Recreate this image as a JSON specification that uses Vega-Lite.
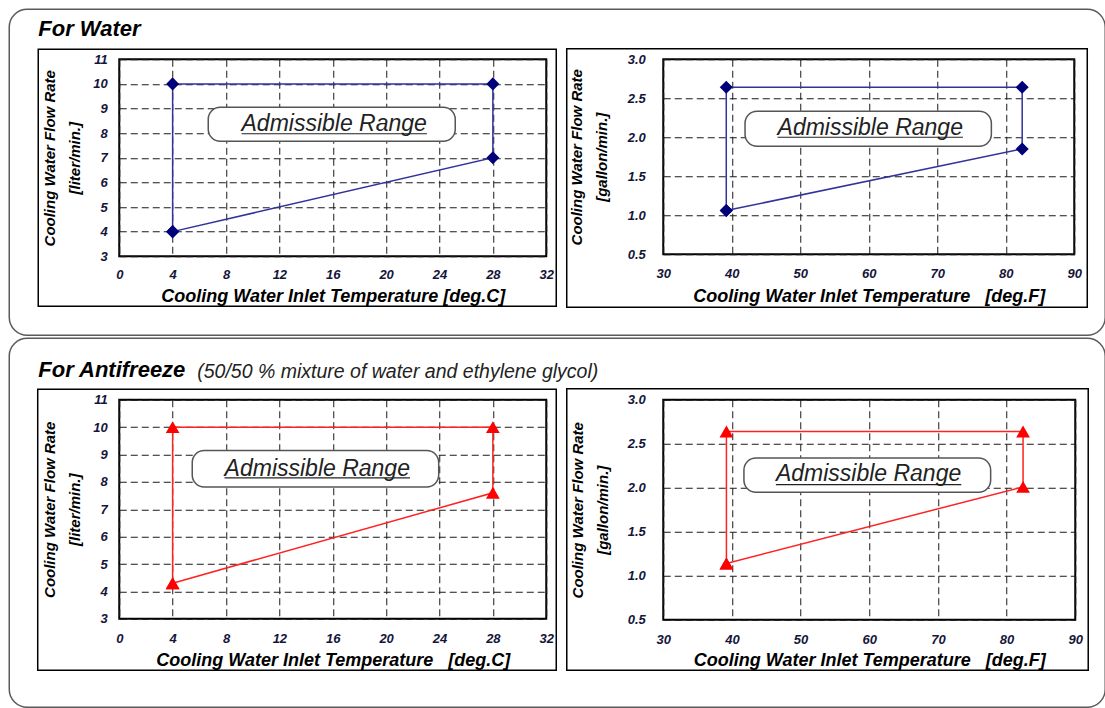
{
  "$schema": "https://vega.github.io/schema/vega-lite/v6.json",
  "background": "white",
  "padding": {"left": 7.25, "top": 7.25, "right": 0, "bottom": 0},
  "datasets": {
    "pts": [
      {"fluid": "Water", "unit": "C", "order": 1, "temp": 4, "flow": 4},
      {"fluid": "Water", "unit": "C", "order": 2, "temp": 4, "flow": 10},
      {"fluid": "Water", "unit": "C", "order": 3, "temp": 28, "flow": 10},
      {"fluid": "Water", "unit": "C", "order": 4, "temp": 28, "flow": 7},
      {"fluid": "Water", "unit": "C", "order": 5, "temp": 4, "flow": 4},
      {"fluid": "Water", "unit": "F", "order": 1, "temp": 39.2, "flow": 1.06},
      {"fluid": "Water", "unit": "F", "order": 2, "temp": 39.2, "flow": 2.64},
      {"fluid": "Water", "unit": "F", "order": 3, "temp": 82.4, "flow": 2.64},
      {"fluid": "Water", "unit": "F", "order": 4, "temp": 82.4, "flow": 1.85},
      {"fluid": "Water", "unit": "F", "order": 5, "temp": 39.2, "flow": 1.06},
      {"fluid": "Antifreeze", "unit": "C", "order": 1, "temp": 4, "flow": 4.3},
      {"fluid": "Antifreeze", "unit": "C", "order": 2, "temp": 4, "flow": 10},
      {"fluid": "Antifreeze", "unit": "C", "order": 3, "temp": 28, "flow": 10},
      {"fluid": "Antifreeze", "unit": "C", "order": 4, "temp": 28, "flow": 7.6},
      {"fluid": "Antifreeze", "unit": "C", "order": 5, "temp": 4, "flow": 4.3},
      {"fluid": "Antifreeze", "unit": "F", "order": 1, "temp": 39.2, "flow": 1.14},
      {"fluid": "Antifreeze", "unit": "F", "order": 2, "temp": 39.2, "flow": 2.64},
      {"fluid": "Antifreeze", "unit": "F", "order": 3, "temp": 82.4, "flow": 2.64},
      {"fluid": "Antifreeze", "unit": "F", "order": 4, "temp": 82.4, "flow": 2.01},
      {"fluid": "Antifreeze", "unit": "F", "order": 5, "temp": 39.2, "flow": 1.14}
    ]
  },
  "bounds": "flush",
  "columns": 2,
  "spacing": {"row": 143.5, "column": 117},
  "concat": [
    {
      "width": 427, "height": 197,
      "layer": [
        {"data": {"name": "pts"}, "transform": [{"filter": "datum.fluid === 'Water' && datum.unit === 'C'"}],
         "mark": {"type": "line", "color": "#32329c", "strokeWidth": 1.5},
         "encoding": {
           "x": {"field": "temp", "type": "quantitative", "scale": {"domain": [0, 32], "nice": false, "zero": false}, "axis": {"values": [0, 4, 8, 12, 16, 20, 24, 28, 32], "tickCount": 20, "format": "d", "title": "Cooling Water Inlet Temperature [deg.C]", "labelPadding": 12, "titlePadding": 6}},
           "y": {"field": "flow", "type": "quantitative", "scale": {"domain": [3, 11], "nice": false, "zero": false}, "axis": {"values": [3, 4, 5, 6, 7, 8, 9, 10, 11], "tickCount": 20, "format": "d", "title": ["Cooling Water Flow Rate", "[liter/min.]"], "labelPadding": 12, "titlePadding": 10}},
           "order": {"field": "order", "type": "quantitative"}
         }},
        {"data": {"name": "pts"}, "transform": [{"filter": "datum.fluid === 'Water' && datum.unit === 'C'"}],
         "mark": {"type": "point", "shape": "diamond", "filled": true, "size": 170, "color": "#00007a", "opacity": 1},
         "encoding": {
           "x": {"field": "temp", "type": "quantitative", "scale": {"domain": [0, 32], "nice": false, "zero": false}},
           "y": {"field": "flow", "type": "quantitative", "scale": {"domain": [3, 11], "nice": false, "zero": false}}
         }},
        {"data": {"values": [{}]},
         "mark": {"type": "rect", "fill": "transparent", "stroke": "#5a5a5a", "strokeWidth": 1.5, "cornerRadius": 18},
         "encoding": {
           "x": {"datum": -8.243, "type": "quantitative", "scale": {"domain": [0, 32], "nice": false, "zero": false}}, "x2": {"datum": 73.89},
           "y": {"datum": 13.03, "type": "quantitative", "scale": {"domain": [3, 11], "nice": false, "zero": false}}, "y2": {"datum": -0.208}
         }},
        {"data": {"values": [{}]},
         "mark": {"type": "rect", "fill": "transparent", "stroke": "#000", "strokeWidth": 1.5},
         "encoding": {
           "x": {"datum": -6.07, "type": "quantitative", "scale": {"domain": [0, 32], "nice": false, "zero": false}}, "x2": {"datum": 32.75},
           "y": {"datum": 11.406, "type": "quantitative", "scale": {"domain": [3, 11], "nice": false, "zero": false}}, "y2": {"datum": 0.97}
         }},
        {"data": {"values": [{}]},
         "mark": {"type": "text", "text": "For Water", "font": "Liberation Sans", "fontSize": 22, "fontStyle": "italic", "fontWeight": "bold", "align": "left", "baseline": "alphabetic", "color": "#000"},
         "encoding": {
           "x": {"datum": -6.07, "type": "quantitative", "scale": {"domain": [0, 32], "nice": false, "zero": false}},
           "y": {"datum": 11.934, "type": "quantitative", "scale": {"domain": [3, 11], "nice": false, "zero": false}}
         }},
        {"data": {"values": [{}]},
         "mark": {"type": "rect", "fill": "white", "stroke": "#555", "strokeWidth": 1.5, "cornerRadius": 12},
         "encoding": {
           "x": {"datum": 6.67, "type": "quantitative", "scale": {"domain": [0, 32], "nice": false, "zero": false}}, "x2": {"datum": 25.18},
           "y": {"datum": 9.05, "type": "quantitative", "scale": {"domain": [3, 11], "nice": false, "zero": false}}, "y2": {"datum": 7.67}
         }},
        {"data": {"values": [{}]},
         "mark": {"type": "text", "text": "Admissible Range", "font": "Liberation Sans", "fontSize": 23, "fontStyle": "italic", "align": "center", "baseline": "alphabetic", "color": "#222"},
         "encoding": {
           "x": {"datum": 16.11, "type": "quantitative", "scale": {"domain": [0, 32], "nice": false, "zero": false}},
           "y": {"datum": 8.076, "type": "quantitative", "scale": {"domain": [3, 11], "nice": false, "zero": false}}
         }},
        {"data": {"values": [{}]},
         "mark": {"type": "rule", "color": "#222", "strokeWidth": 1.2},
         "encoding": {
           "x": {"datum": 9.17, "type": "quantitative", "scale": {"domain": [0, 32], "nice": false, "zero": false}}, "x2": {"datum": 23.06},
           "y": {"datum": 7.975, "type": "quantitative", "scale": {"domain": [3, 11], "nice": false, "zero": false}}
         }}
      ]
    },
    {
      "width": 411, "height": 195,
      "layer": [
        {"data": {"name": "pts"}, "transform": [{"filter": "datum.fluid === 'Water' && datum.unit === 'F'"}],
         "mark": {"type": "line", "color": "#32329c", "strokeWidth": 1.5},
         "encoding": {
           "x": {"field": "temp", "type": "quantitative", "scale": {"domain": [30, 90], "nice": false, "zero": false}, "axis": {"values": [30, 40, 50, 60, 70, 80, 90], "tickCount": 20, "format": "d", "title": "Cooling Water Inlet Temperature\u00a0\u00a0 [deg.F]", "labelPadding": 13, "titlePadding": 7}},
           "y": {"field": "flow", "type": "quantitative", "scale": {"domain": [0.5, 3.0], "nice": false, "zero": false}, "axis": {"values": [0.5, 1.0, 1.5, 2.0, 2.5, 3.0], "tickCount": 20, "format": ".1f", "title": ["Cooling Water Flow Rate", "[gallon/min.]"], "labelPadding": 18, "titlePadding": 18}},
           "order": {"field": "order", "type": "quantitative"}
         }},
        {"data": {"name": "pts"}, "transform": [{"filter": "datum.fluid === 'Water' && datum.unit === 'F'"}],
         "mark": {"type": "point", "shape": "diamond", "filled": true, "size": 170, "color": "#00007a", "opacity": 1},
         "encoding": {
           "x": {"field": "temp", "type": "quantitative", "scale": {"domain": [30, 90], "nice": false, "zero": false}},
           "y": {"field": "flow", "type": "quantitative", "scale": {"domain": [0.5, 3.0], "nice": false, "zero": false}}
         }},
        {"data": {"values": [{}]},
         "mark": {"type": "rect", "fill": "transparent", "stroke": "#000", "strokeWidth": 1.5},
         "encoding": {
           "x": {"datum": 15.91, "type": "quantitative", "scale": {"domain": [30, 90], "nice": false, "zero": false}}, "x2": {"datum": 91.9},
           "y": {"datum": 3.135, "type": "quantitative", "scale": {"domain": [0.5, 3.0], "nice": false, "zero": false}}, "y2": {"datum": -0.179}
         }},
        {"data": {"values": [{}]},
         "mark": {"type": "rect", "fill": "white", "stroke": "#555", "strokeWidth": 1.5, "cornerRadius": 12},
         "encoding": {
           "x": {"datum": 41.94, "type": "quantitative", "scale": {"domain": [30, 90], "nice": false, "zero": false}}, "x2": {"datum": 77.9},
           "y": {"datum": 2.333, "type": "quantitative", "scale": {"domain": [0.5, 3.0], "nice": false, "zero": false}}, "y2": {"datum": 1.885}
         }},
        {"data": {"values": [{}]},
         "mark": {"type": "text", "text": "Admissible Range", "font": "Liberation Sans", "fontSize": 23, "fontStyle": "italic", "align": "center", "baseline": "alphabetic", "color": "#222"},
         "encoding": {
           "x": {"datum": 60.22, "type": "quantitative", "scale": {"domain": [30, 90], "nice": false, "zero": false}},
           "y": {"datum": 2.035, "type": "quantitative", "scale": {"domain": [0.5, 3.0], "nice": false, "zero": false}}
         }},
        {"data": {"values": [{}]},
         "mark": {"type": "rule", "color": "#222", "strokeWidth": 1.2},
         "encoding": {
           "x": {"datum": 46.69, "type": "quantitative", "scale": {"domain": [30, 90], "nice": false, "zero": false}}, "x2": {"datum": 73.75},
           "y": {"datum": 2.0, "type": "quantitative", "scale": {"domain": [0.5, 3.0], "nice": false, "zero": false}}
         }}
      ]
    },
    {
      "width": 427, "height": 219,
      "layer": [
        {"data": {"name": "pts"}, "transform": [{"filter": "datum.fluid === 'Antifreeze' && datum.unit === 'C'"}],
         "mark": {"type": "line", "color": "#ff2222", "strokeWidth": 1.5},
         "encoding": {
           "x": {"field": "temp", "type": "quantitative", "scale": {"domain": [0, 32], "nice": false, "zero": false}, "axis": {"values": [0, 4, 8, 12, 16, 20, 24, 28, 32], "tickCount": 20, "format": "d", "title": "Cooling Water Inlet Temperature\u00a0\u00a0 [deg.C]", "labelPadding": 14, "titlePadding": 6}},
           "y": {"field": "flow", "type": "quantitative", "scale": {"domain": [3, 11], "nice": false, "zero": false}, "axis": {"values": [3, 4, 5, 6, 7, 8, 9, 10, 11], "tickCount": 20, "format": "d", "title": ["Cooling Water Flow Rate", "[liter/min.]"], "labelPadding": 12, "titlePadding": 10}},
           "order": {"field": "order", "type": "quantitative"}
         }},
        {"data": {"name": "pts"}, "transform": [{"filter": "datum.fluid === 'Antifreeze' && datum.unit === 'C'"}],
         "mark": {"type": "point", "shape": "triangle-up", "filled": true, "size": 190, "color": "#ff0000", "opacity": 1},
         "encoding": {
           "x": {"field": "temp", "type": "quantitative", "scale": {"domain": [0, 32], "nice": false, "zero": false}},
           "y": {"field": "flow", "type": "quantitative", "scale": {"domain": [3, 11], "nice": false, "zero": false}}
         }},
        {"data": {"values": [{}]},
         "mark": {"type": "rect", "fill": "transparent", "stroke": "#5a5a5a", "strokeWidth": 1.5, "cornerRadius": 18},
         "encoding": {
           "x": {"datum": -8.243, "type": "quantitative", "scale": {"domain": [0, 32], "nice": false, "zero": false}}, "x2": {"datum": 73.89},
           "y": {"datum": 13.247, "type": "quantitative", "scale": {"domain": [3, 11], "nice": false, "zero": false}}, "y2": {"datum": -0.233}
         }},
        {"data": {"values": [{}]},
         "mark": {"type": "rect", "fill": "transparent", "stroke": "#000", "strokeWidth": 1.5},
         "encoding": {
           "x": {"datum": -6.11, "type": "quantitative", "scale": {"domain": [0, 32], "nice": false, "zero": false}}, "x2": {"datum": 32.75},
           "y": {"datum": 11.384, "type": "quantitative", "scale": {"domain": [3, 11], "nice": false, "zero": false}}, "y2": {"datum": 1.119}
         }},
        {"data": {"values": [{}]},
         "mark": {"type": "text", "text": "For Antifreeze", "font": "Liberation Sans", "fontSize": 22, "fontStyle": "italic", "fontWeight": "bold", "align": "left", "baseline": "alphabetic", "color": "#000"},
         "encoding": {
           "x": {"datum": -6.07, "type": "quantitative", "scale": {"domain": [0, 32], "nice": false, "zero": false}},
           "y": {"datum": 11.822, "type": "quantitative", "scale": {"domain": [3, 11], "nice": false, "zero": false}}
         }},
        {"data": {"values": [{}]},
         "mark": {"type": "text", "text": "(50/50 % mixture of water and ethylene glycol)", "font": "Liberation Sans", "fontSize": 19.5, "fontStyle": "italic", "align": "left", "baseline": "alphabetic", "color": "#222"},
         "encoding": {
           "x": {"datum": 5.845, "type": "quantitative", "scale": {"domain": [0, 32], "nice": false, "zero": false}},
           "y": {"datum": 11.785, "type": "quantitative", "scale": {"domain": [3, 11], "nice": false, "zero": false}}
         }},
        {"data": {"values": [{}]},
         "mark": {"type": "rect", "fill": "white", "stroke": "#555", "strokeWidth": 1.5, "cornerRadius": 12},
         "encoding": {
           "x": {"datum": 5.47, "type": "quantitative", "scale": {"domain": [0, 32], "nice": false, "zero": false}}, "x2": {"datum": 23.94},
           "y": {"datum": 9.144, "type": "quantitative", "scale": {"domain": [3, 11], "nice": false, "zero": false}}, "y2": {"datum": 7.815}
         }},
        {"data": {"values": [{}]},
         "mark": {"type": "text", "text": "Admissible Range", "font": "Liberation Sans", "fontSize": 23, "fontStyle": "italic", "align": "center", "baseline": "alphabetic", "color": "#222"},
         "encoding": {
           "x": {"datum": 14.84, "type": "quantitative", "scale": {"domain": [0, 32], "nice": false, "zero": false}},
           "y": {"datum": 8.205, "type": "quantitative", "scale": {"domain": [3, 11], "nice": false, "zero": false}}
         }},
        {"data": {"values": [{}]},
         "mark": {"type": "rule", "color": "#222", "strokeWidth": 1.2},
         "encoding": {
           "x": {"datum": 7.89, "type": "quantitative", "scale": {"domain": [0, 32], "nice": false, "zero": false}}, "x2": {"datum": 21.79},
           "y": {"datum": 8.143, "type": "quantitative", "scale": {"domain": [3, 11], "nice": false, "zero": false}}
         }}
      ]
    },
    {
      "width": 412, "height": 220,
      "layer": [
        {"data": {"name": "pts"}, "transform": [{"filter": "datum.fluid === 'Antifreeze' && datum.unit === 'F'"}],
         "mark": {"type": "line", "color": "#ff2222", "strokeWidth": 1.5},
         "encoding": {
           "x": {"field": "temp", "type": "quantitative", "scale": {"domain": [30, 90], "nice": false, "zero": false}, "axis": {"values": [30, 40, 50, 60, 70, 80, 90], "tickCount": 20, "format": "d", "title": "Cooling Water Inlet Temperature\u00a0\u00a0 [deg.F]", "labelPadding": 14, "titlePadding": 5}},
           "y": {"field": "flow", "type": "quantitative", "scale": {"domain": [0.5, 3.0], "nice": false, "zero": false}, "axis": {"values": [0.5, 1.0, 1.5, 2.0, 2.5, 3.0], "tickCount": 20, "format": ".1f", "title": ["Cooling Water Flow Rate", "[gallon/min.]"], "labelPadding": 18, "titlePadding": 17}},
           "order": {"field": "order", "type": "quantitative"}
         }},
        {"data": {"name": "pts"}, "transform": [{"filter": "datum.fluid === 'Antifreeze' && datum.unit === 'F'"}],
         "mark": {"type": "point", "shape": "triangle-up", "filled": true, "size": 190, "color": "#ff0000", "opacity": 1},
         "encoding": {
           "x": {"field": "temp", "type": "quantitative", "scale": {"domain": [30, 90], "nice": false, "zero": false}},
           "y": {"field": "flow", "type": "quantitative", "scale": {"domain": [0.5, 3.0], "nice": false, "zero": false}}
         }},
        {"data": {"values": [{}]},
         "mark": {"type": "rect", "fill": "transparent", "stroke": "#000", "strokeWidth": 1.5},
         "encoding": {
           "x": {"datum": 15.95, "type": "quantitative", "scale": {"domain": [30, 90], "nice": false, "zero": false}}, "x2": {"datum": 91.89},
           "y": {"datum": 3.125, "type": "quantitative", "scale": {"domain": [0.5, 3.0], "nice": false, "zero": false}}, "y2": {"datum": -0.074}
         }},
        {"data": {"values": [{}]},
         "mark": {"type": "rect", "fill": "white", "stroke": "#555", "strokeWidth": 1.5, "cornerRadius": 12},
         "encoding": {
           "x": {"datum": 41.75, "type": "quantitative", "scale": {"domain": [30, 90], "nice": false, "zero": false}}, "x2": {"datum": 77.68},
           "y": {"datum": 2.339, "type": "quantitative", "scale": {"domain": [0.5, 3.0], "nice": false, "zero": false}}, "y2": {"datum": 1.949}
         }},
        {"data": {"values": [{}]},
         "mark": {"type": "text", "text": "Admissible Range", "font": "Liberation Sans", "fontSize": 23, "fontStyle": "italic", "align": "center", "baseline": "alphabetic", "color": "#222"},
         "encoding": {
           "x": {"datum": 59.9, "type": "quantitative", "scale": {"domain": [30, 90], "nice": false, "zero": false}},
           "y": {"datum": 2.074, "type": "quantitative", "scale": {"domain": [0.5, 3.0], "nice": false, "zero": false}}
         }},
        {"data": {"values": [{}]},
         "mark": {"type": "rule", "color": "#222", "strokeWidth": 1.2},
         "encoding": {
           "x": {"datum": 46.4, "type": "quantitative", "scale": {"domain": [30, 90], "nice": false, "zero": false}}, "x2": {"datum": 73.4},
           "y": {"datum": 2.036, "type": "quantitative", "scale": {"domain": [0.5, 3.0], "nice": false, "zero": false}}
         }}
      ]
    }
  ],
  "config": {
    "font": "Liberation Sans",
    "view": {"stroke": "#000", "strokeWidth": 2},
    "axis": {
      "grid": true, "gridColor": "#1a1a1a", "gridDash": [7, 4], "gridWidth": 1,
      "domain": false, "ticks": false,
      "labelFont": "Liberation Sans", "labelFontSize": 13, "labelFontWeight": "bold", "labelFontStyle": "italic", "labelColor": "#15153a",
      "labelFlush": false, "labelOverlap": false, "labelBound": false,
      "titleFont": "Liberation Sans", "titleFontWeight": "bold", "titleFontStyle": "italic", "titleColor": "#000"
    },
    "axisX": {"titleFontSize": 18},
    "axisY": {"titleFontSize": 15, "titleLineHeight": 25}
  }
}
